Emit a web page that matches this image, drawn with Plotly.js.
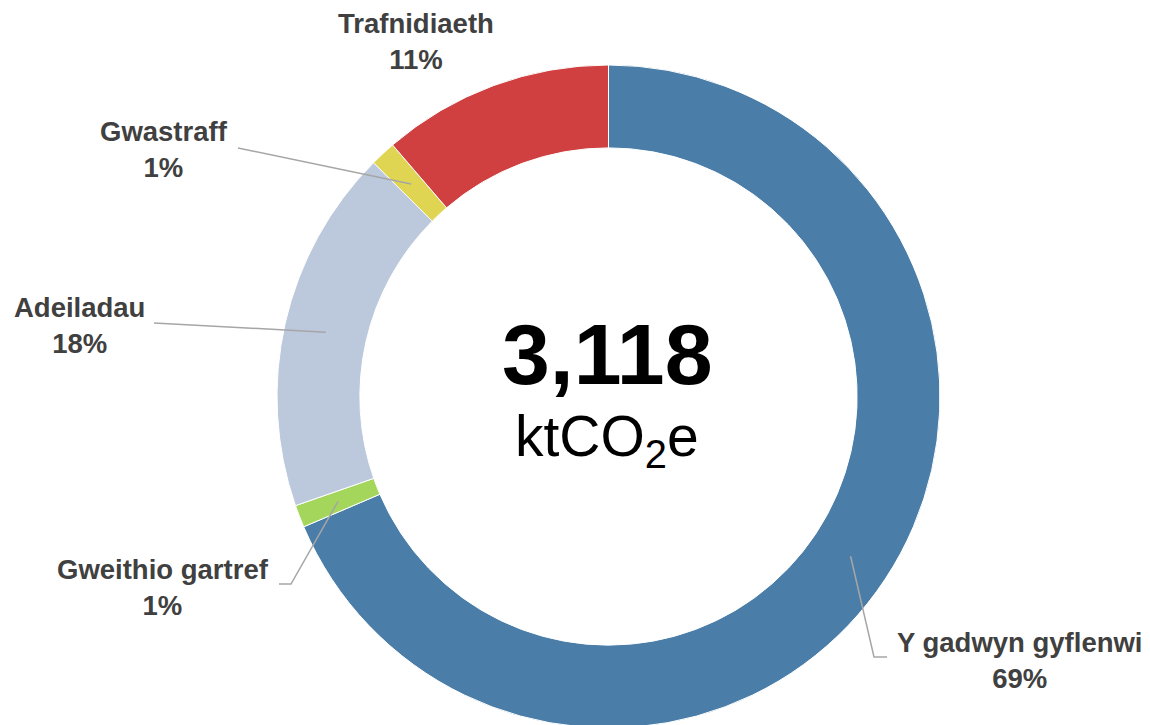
<!DOCTYPE html>
<html>
<head>
<meta charset="utf-8">
<script src="https://cdn.plot.ly/plotly-3.0.1.min.js"></script>
<style>
  html, body { margin: 0; padding: 0; overflow: hidden; background: #fff; }
  #chart { width: 1150px; height: 730px; }
</style>
</head>
<body>
<div id="chart"></div>
<script>
// ---- data ----
const categories = ["Y gadwyn gyflenwi", "Gweithio gartref", "Adeiladau", "Gwastraff", "Trafnidiaeth"];
const values = [2138, 34, 555, 39, 352];          // ktCO2e
const colors = ["#4A7EA8", "#A3D65A", "#BCC8DB", "#E0D453", "#D04040"];
const totalLabel = "3,118";
const unitLabel = "ktCO<sub>2</sub>e";

// ---- layout geometry ----
const W = 1150, H = 730;
const cx = 608.5, cy = 396.5, R = 331.5, hole = 0.75;

// label placement (label centre, leader-line outer points) in px
const labelPos = {
  "Y gadwyn gyflenwi": {x: 1020, y: 660, line: [[874, 657], [887, 657]]},
  "Gweithio gartref":  {x: 163,  y: 587, line: [[291, 584], [279, 584]]},
  "Adeiladau":         {x: 79,   y: 325, line: [[154, 323]]},
  "Gwastraff":         {x: 164,  y: 150, line: [[238, 148]]},
  "Trafnidiaeth":      {x: 416,  y: 41,  line: null}
};

const px2x = x => x / W;
const px2y = y => 1 - y / H;

const total = values.reduce((a, b) => a + b, 0);

const trace = {
  type: "pie",
  labels: categories,
  values: values,
  hole: hole,
  sort: false,
  direction: "clockwise",
  rotation: 0,
  textinfo: "none",
  hoverinfo: "label+percent",
  marker: { colors: colors, line: { color: "#ffffff", width: 1 } },
  domain: {
    x: [px2x(cx - R), px2x(cx + R)],
    y: [px2y(cy + R), px2y(cy - R)]
  },
  showlegend: false
};

const annotations = [];
const shapes = [];
const fontFam = "Liberation Sans, Arial, sans-serif";

let cum = 0;
values.forEach((v, i) => {
  const midFrac = (cum + v / 2) / total;
  cum += v;
  const ang = midFrac * 2 * Math.PI;   // clockwise from 12 o'clock
  const rMid = R * (1 + hole) / 2;
  const ax = cx + rMid * Math.sin(ang);
  const ay = cy - rMid * Math.cos(ang);
  const name = categories[i];
  const lp = labelPos[name];
  const pct = Math.round(v / total * 100) + "%";
  annotations.push({
    xref: "paper", yref: "paper",
    x: px2x(lp.x), y: px2y(lp.y),
    xanchor: "center", yanchor: "middle",
    text: "<b>" + name + "<br>" + pct + "</b>",
    showarrow: false,
    font: { family: fontFam, size: 27.5, color: "#404040" },
    align: "center"
  });
  if (lp.line) {
    let path = "M " + px2x(ax) + "," + px2y(ay);
    lp.line.forEach(p => { path += " L " + px2x(p[0]) + "," + px2y(p[1]); });
    shapes.push({
      type: "path", xref: "paper", yref: "paper",
      path: path,
      line: { color: "#A6A6A6", width: 1.5 }
    });
  }
});

annotations.push({
  xref: "paper", yref: "paper",
  x: px2x(cx - 2), y: px2y(354),
  xanchor: "center", yanchor: "middle",
  text: "<b>" + totalLabel + "</b>",
  showarrow: false,
  font: { family: fontFam, size: 86, color: "#000000" }
});
annotations.push({
  xref: "paper", yref: "paper",
  x: px2x(cx - 2), y: px2y(440),
  xanchor: "center", yanchor: "middle",
  text: unitLabel,
  showarrow: false,
  font: { family: fontFam, size: 57, color: "#000000" }
});

const layout = {
  width: W, height: H,
  margin: { l: 0, r: 0, t: 0, b: 0 },
  paper_bgcolor: "#ffffff",
  plot_bgcolor: "#ffffff",
  annotations: annotations,
  shapes: shapes
};

Plotly.newPlot("chart", [trace], layout, { displayModeBar: false, staticPlot: true });
</script>
</body>
</html>
